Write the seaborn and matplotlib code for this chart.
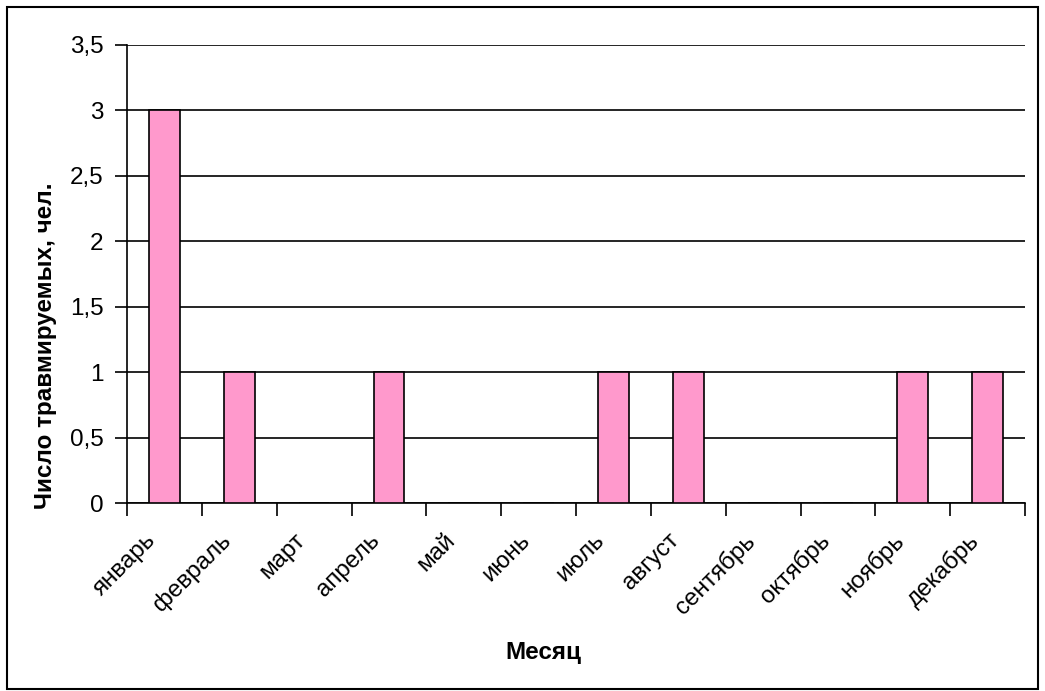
import matplotlib
matplotlib.use("Agg")
import matplotlib.pyplot as plt
import matplotlib.ticker as mticker
import matplotlib.transforms as mtransforms
from matplotlib import font_manager as fm
from matplotlib.patches import Rectangle
import seaborn as sns
import pandas as pd

months = ["январь", "февраль", "март", "апрель", "май", "июнь",
          "июль", "август", "сентябрь", "октябрь", "ноябрь", "декабрь"]
injured = [3, 1, 0, 1, 0, 0, 1, 1, 0, 0, 1, 1]
y_ticks = [0, 0.5, 1, 1.5, 2, 2.5, 3, 3.5]

sns.set_style("white")

# pick the regular-width Liberation Sans files explicitly
reg = bold = None
for f in fm.fontManager.ttflist:
    base = f.fname.lower()
    if base.endswith("liberationsans-regular.ttf"):
        reg = f.fname
    elif base.endswith("liberationsans-bold.ttf"):
        bold = f.fname
FS = 17.5
fp_reg = fm.FontProperties(fname=reg, size=FS) if reg else fm.FontProperties(family="DejaVu Sans", size=FS - 1)
fp_bold = fm.FontProperties(fname=bold, size=FS) if bold else fm.FontProperties(family="DejaVu Sans", weight="bold", size=FS - 1)

plt.rcParams["text.color"] = "black"
plt.rcParams["axes.labelcolor"] = "black"
plt.rcParams["xtick.color"] = "black"
plt.rcParams["ytick.color"] = "black"

df = pd.DataFrame({"Месяц": months, "Число": injured})

fig = plt.figure(figsize=(10.45, 6.91), dpi=100)
ax = fig.add_axes([127 / 1045, 1 - 503 / 691, (1025 - 127) / 1045, (503 - 45) / 691])

sns.barplot(data=df, x="Месяц", y="Число", ax=ax, color="#FF99CC",
            saturation=1, width=0.41, edgecolor="black", linewidth=1.2, zorder=3)

ax.set_xlim(-0.5, len(months) - 0.5)
ax.set_ylim(0, 3.5)
ax.set_yticks(y_ticks)
ax.yaxis.set_major_formatter(mticker.FuncFormatter(
    lambda v, p: (f"{v:g}").replace(".", ",")))
ax.yaxis.grid(True, color="black", linewidth=1.2, zorder=0)
ax.xaxis.grid(False)

# category boundary ticks on x axis
ax.set_xticks(list(range(len(months))))
ax.set_xticklabels(months)
ax.set_xticks([i - 0.5 for i in range(len(months) + 1)], minor=True)
ax.tick_params(axis="x", which="major", length=0, pad=19)
ax.tick_params(axis="x", which="minor", length=9, width=1.2, color="black",
               direction="out", bottom=True)
ax.tick_params(axis="y", length=9, width=1.2, color="black", direction="out",
               left=True, pad=8)
for lbl in ax.get_yticklabels():
    lbl.set_fontproperties(fp_reg)
shift = mtransforms.ScaledTranslation(-20 / 100, 0, fig.dpi_scale_trans)
for lbl in ax.get_xticklabels():
    lbl.set_fontproperties(fp_reg)
    lbl.set_rotation(45)
    lbl.set_ha("right")
    lbl.set_va("top")
    lbl.set_rotation_mode("anchor")
    lbl.set_transform(lbl.get_transform() + shift)

for side in ["top", "right"]:
    ax.spines[side].set_visible(False)
for side in ["left", "bottom"]:
    ax.spines[side].set_color("black")
    ax.spines[side].set_linewidth(1.2)

ax.set_xlabel("")
ax.set_ylabel("Число травмируемых, чел.", fontproperties=fp_bold)
ax.yaxis.set_label_coords(57 / 1045, 0.5, transform=fig.transFigure)
fig.text(543 / 1045, 1 - 653 / 691, "Месяц", fontproperties=fp_bold,
         ha="center", va="center")

fig.patches.append(Rectangle((7 / 1045, 2 / 691), (1038 - 7) / 1045, (689 - 7) / 691,
                             transform=fig.transFigure, fill=False,
                             edgecolor="black", linewidth=1.5))

fig.savefig("out.png", dpi=100)
